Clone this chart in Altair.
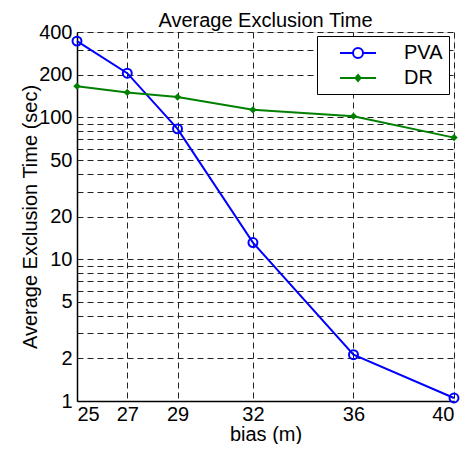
import altair as alt
import pandas as pd

bias = [25, 27, 29, 32, 36, 40]
pva = [345, 205, 83, 13.1, 2.12, 1.05]
dr = [166, 150, 139, 113, 102, 72]
series = ["PVA", "DR"]
colors = ["#0000ff", "#008000"]
y_grid = [1, 2, 3, 4, 5, 6, 7, 8, 9, 10, 20, 30, 40, 50, 60, 70, 80, 90, 100, 200, 300, 400]
y_labels = [1, 2, 5, 10, 20, 50, 100, 200, 400]
x_ticks = [25, 27, 29, 32, 36, 40]

rows = []
for b, p, d in zip(bias, pva, dr):
    rows.append({"bias": b, "value": p, "series": "PVA"})
    rows.append({"bias": b, "value": d, "series": "DR"})
df = pd.DataFrame(rows)

FONT = "Liberation Sans"
FS = 20

pva_sym = "M-1.8,0H-0.5 M0.5,0H1.8 M-0.5,0A0.5,0.5 0 1,1 0.5,0A0.5,0.5 0 1,1 -0.5,0"
dr_sym = "M-1.8,0H1.8 M0,-0.3L0.25,0L0,0.3L-0.25,0Z"

legend = alt.Legend(
    title=None, orient="none", legendX=240, legendY=4,
    fillColor="white", strokeColor="black",
    padding=6, symbolSize=400, symbolStrokeWidth=2, symbolOpacity=1,
    symbolOffset=24, labelOffset=35, rowPadding=4,
    labelFont=FONT, labelFontSize=FS, labelColor="black",
)

x = alt.X("bias:Q", title="bias (m)",
          scale=alt.Scale(domain=[25, 40], zero=False, nice=False),
          axis=alt.Axis(values=x_ticks, format="d", grid=True, gridDash=[6, 4],
                        gridColor="#222", gridWidth=1, tickSize=0, labelPadding=3,
                        labelFontSize=FS, labelFont=FONT, labelColor="black",
                        titleFontSize=FS, titleFont=FONT, titleColor="black",
                        titleFontWeight="normal", titlePadding=0,
                        domainColor="black", domainWidth=1.5, labelOverlap=False))
y = alt.Y("value:Q", title="Average Exclusion Time (sec)",
          scale=alt.Scale(type="log", domain=[1, 400], nice=False),
          axis=alt.Axis(values=y_grid, format="d", grid=True, gridDash=[6, 4],
                        gridColor="#222", gridWidth=1, tickSize=0, labelPadding=5,
                        labelExpr="indexof(" + str(y_labels) + ", datum.value) >= 0 ? datum.label : ''",
                        labelFontSize=FS, labelFont=FONT, labelColor="black",
                        titleFontSize=FS, titleFont=FONT, titleColor="black",
                        titleFontWeight="normal", titlePadding=-2,
                        domainColor="black", domainWidth=1.5, labelOverlap=False))

base = alt.Chart(df)
pva_data = base.transform_filter("datum.series === 'PVA'")
dr_data = base.transform_filter("datum.series === 'DR'")

pva_line = pva_data.mark_line(strokeWidth=2, color=colors[0]).encode(x=x, y=y)
dr_line = dr_data.mark_line(strokeWidth=2, color=colors[1]).encode(x=x, y=y)
pva_pts = pva_data.mark_point(shape="circle", filled=False, size=80, strokeWidth=2,
                              color=colors[0], opacity=1).encode(x=x, y=y)
dr_pts = dr_data.mark_point(shape="diamond", filled=True, size=55,
                            color=colors[1], opacity=1).encode(x=x, y=y)

leg_layer = base.mark_point(filled=False, strokeWidth=2, opacity=0).encode(
    x=x, y=y,
    color=alt.Color("series:N", scale=alt.Scale(domain=series, range=colors), legend=legend),
    shape=alt.Shape("series:N", scale=alt.Scale(domain=series, range=[pva_sym, dr_sym]), legend=legend),
)

chart = alt.layer(pva_line, dr_line, pva_pts, dr_pts, leg_layer).properties(
    width=377, height=369,
    title=alt.TitleParams("Average Exclusion Time", font=FONT, fontSize=FS,
                          fontWeight="normal", color="black", offset=-9),
    autosize=alt.AutoSizeParams(type="none"),
    padding={"left": 69, "top": 24, "right": 6, "bottom": 43},
).configure_view(stroke="black", strokeWidth=1.5).configure_legend(
    strokeWidth=1, cornerRadius=0
).configure(background="white")

chart.save("out.html", embed_options={"renderer": "svg", "actions": False})
